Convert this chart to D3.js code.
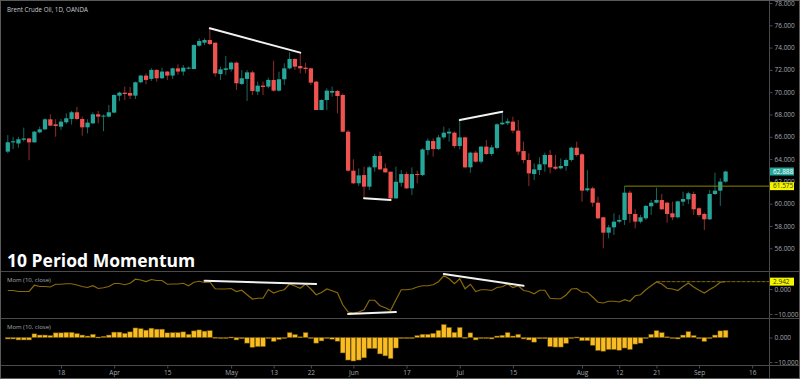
<!DOCTYPE html>
<html>
<head>
<meta charset="utf-8">
<script src="https://cdn.jsdelivr.net/npm/d3@7/dist/d3.min.js"></script>
<style>
  html, body { margin: 0; padding: 0; background: #000; }
  svg { display: block; }
  text { font-family: "Open Sans", "Noto Sans", sans-serif; }
</style>
</head>
<body>
<div id="chart"></div>
<script>
// Daily candles, Mar 4 .. Sep 9 (weekdays).
const opens = [
  64.67, 65.50, 65.40, 65.73, 65.85, 65.50, 66.40, 66.67, 67.57, 67.12,
  66.91, 67.30, 67.60, 68.20, 67.60, 66.85, 67.21, 68.02, 67.85, 67.81,
  68.17, 69.69, 69.96, 69.93, 69.69, 70.89, 71.49, 71.19, 72.00, 71.25,
  71.85, 71.49, 72.14, 71.85, 72.14, 72.08, 74.17, 74.44, 74.68, 74.44,
  71.63, 72.00, 72.05, 72.65, 70.74, 71.19, 71.78, 70.05, 70.59, 70.50,
  71.10, 70.14, 71.16, 72.14, 72.98, 72.35, 72.20, 72.14, 70.95, 68.40,
  69.30, 69.96, 70.11, 69.75, 66.46, 62.96, 61.83, 62.57, 61.53, 63.26,
  64.28, 63.17, 62.87, 60.48, 61.88, 62.66, 61.38, 62.66, 62.57, 64.81,
  65.62, 64.90, 65.95, 66.30, 66.37, 65.17, 65.95, 63.26, 64.58, 63.77,
  65.12, 64.46, 65.00, 67.12, 67.21, 67.36, 66.55, 64.72, 63.92, 62.66,
  63.02, 63.53, 64.37, 63.32, 63.17, 63.38, 63.92, 65.02, 64.43, 61.20,
  61.38, 60.09, 58.78, 57.40, 57.88, 58.39, 58.54, 60.99, 59.08, 58.39,
  58.69, 59.77, 60.09, 60.33, 60.09, 59.14, 58.78, 60.18, 60.39, 60.87,
  59.59, 59.08, 58.60, 60.87, 61.17, 61.98
];
const highs = [
  66.16, 66.00, 66.00, 66.82, 65.87, 66.52, 66.91, 67.66, 68.02, 67.57,
  67.60, 68.10, 68.32, 68.68, 67.81, 67.57, 68.20, 68.32, 68.00, 68.86,
  69.81, 70.05, 70.50, 70.47, 70.95, 71.55, 71.70, 72.14, 72.05, 72.20,
  71.90, 72.20, 72.50, 72.44, 72.30, 74.29, 74.83, 74.83, 75.73, 74.44,
  72.29, 73.25, 72.74, 72.74, 71.99, 71.99, 71.93, 70.95, 70.95, 71.30,
  72.83, 71.84, 72.59, 73.58, 73.04, 73.55, 72.65, 72.20, 71.00, 69.36,
  70.35, 70.50, 70.20, 69.90, 66.61, 63.98, 63.17, 63.32, 63.38, 64.46,
  64.67, 63.62, 62.87, 63.32, 63.02, 62.87, 63.26, 62.96, 64.96, 65.86,
  65.86, 66.16, 66.91, 66.76, 66.46, 67.51, 66.01, 64.67, 64.76, 65.17,
  65.71, 65.26, 67.21, 68.25, 67.66, 67.81, 67.51, 65.56, 64.52, 63.62,
  64.16, 64.58, 64.82, 64.37, 64.07, 64.07, 65.12, 65.56, 64.52, 63.02,
  61.53, 60.63, 58.84, 58.09, 59.14, 58.99, 61.575, 61.17, 59.50, 58.99,
  59.89, 60.33, 61.44, 60.87, 60.18, 60.18, 60.27, 61.08, 61.08, 61.08,
  59.68, 59.20, 61.23, 62.78, 62.28, 62.96
];
const lows = [
  64.52, 64.90, 65.03, 65.57, 63.90, 65.50, 66.31, 66.61, 67.00, 66.00,
  66.61, 67.15, 67.10, 67.51, 66.10, 66.31, 67.12, 67.21, 66.50, 67.72,
  68.11, 69.21, 69.30, 69.39, 69.39, 70.80, 70.71, 71.00, 70.95, 71.19,
  71.10, 71.19, 71.55, 71.49, 72.05, 72.05, 74.08, 74.23, 74.23, 71.40,
  71.10, 71.55, 71.84, 70.20, 70.65, 69.21, 69.75, 69.75, 69.75, 70.35,
  70.05, 70.05, 70.65, 72.05, 71.99, 71.69, 71.69, 70.65, 68.40, 68.40,
  68.40, 69.60, 68.10, 66.40, 62.87, 61.77, 61.59, 60.48, 61.23, 62.87,
  63.02, 62.78, 60.39, 60.42, 61.53, 61.32, 60.78, 61.83, 62.48, 64.37,
  64.22, 64.81, 65.77, 65.56, 64.96, 64.87, 63.17, 62.78, 63.68, 63.62,
  64.37, 64.28, 64.87, 67.06, 67.06, 66.31, 64.37, 63.62, 61.59, 62.13,
  62.57, 62.87, 62.72, 63.02, 63.08, 62.96, 63.77, 64.22, 60.18, 61.08,
  59.73, 58.60, 56.00, 56.90, 57.19, 58.24, 58.09, 58.30, 57.79, 58.24,
  58.54, 58.99, 60.03, 59.44, 58.30, 58.54, 58.69, 59.80, 59.98, 58.99,
  58.84, 57.64, 58.54, 60.78, 59.80, 61.89
];
const closes = [
  65.51, 65.60, 65.78, 65.85, 65.50, 66.46, 66.67, 67.57, 67.00, 66.97,
  67.36, 67.66, 68.20, 67.60, 66.85, 67.27, 68.02, 67.81, 67.90, 68.20,
  69.75, 69.96, 69.84, 69.69, 70.89, 71.49, 71.10, 72.00, 71.25, 71.85,
  71.49, 72.14, 71.85, 72.20, 72.20, 74.23, 74.59, 74.68, 74.32, 71.69,
  72.05, 72.14, 72.65, 70.80, 71.25, 71.78, 70.11, 70.59, 70.47, 71.10,
  70.14, 71.16, 72.14, 72.98, 72.29, 72.14, 72.08, 70.86, 68.40, 69.30,
  70.14, 70.11, 69.66, 66.46, 62.96, 61.83, 62.54, 61.53, 63.26, 64.28,
  63.08, 62.81, 60.48, 61.97, 62.66, 61.38, 62.66, 62.57, 64.87, 65.65,
  64.90, 65.95, 66.37, 66.46, 65.17, 65.95, 63.26, 64.58, 63.77, 65.12,
  64.46, 65.05, 67.12, 67.27, 67.39, 66.55, 64.67, 63.92, 62.72, 63.08,
  63.53, 64.37, 63.26, 63.14, 63.38, 63.92, 65.02, 64.37, 61.17, 61.38,
  60.09, 58.69, 57.40, 57.88, 58.39, 58.54, 60.99, 59.08, 58.39, 58.78,
  59.80, 60.09, 60.33, 59.50, 59.08, 58.78, 60.21, 60.42, 60.93, 59.50,
  58.99, 58.60, 60.87, 61.17, 61.98, 62.888
];

// Mom (10, close), one value per candle.
const momentum = [
  -0.6, -0.6, -1.0, -1.0, -1.0, 1.5, 1.0, 1.0, 0.8, 1.9,
  1.9, 2.1, 2.1, 1.6, 1.0, 0.6, 1.3, 0.2, 0.5, 1.0,
  2.2, 2.2, 1.7, 2.3, 3.9, 3.6, 3.0, 3.8, 3.4, 3.4,
  1.9, 2.0, 2.0, 2.3, 1.3, 2.7, 3.1, 2.6, 2.8, 0.1,
  0.0, 0.0, 0.2, -1.0, -0.5, -2.3, -4.0, -3.7, -3.7, -0.2,
  -1.6, -0.8, -0.3, 2.0, 1.2, 0.3, 2.0, 0.0, -2.3, -1.4,
  0.0, -0.7, -1.5, -6.3, -9.2, -9.6, -9.2, -8.3, -4.5, -4.5,
  -6.7, -7.5, -8.6, -4.3, -0.3, -0.3, 0.0, 0.8, 1.3, 1.3,
  1.7, 2.9, 5.3, 4.1, 2.1, 4.1, 0.1, 1.9, -1.0, -0.3,
  -0.3, -0.6, 0.6, 0.9, 2.0, 0.6, 1.3, -0.6, -1.0, -1.9,
  -0.5, -0.5, -3.7, -3.9, -3.9, -2.4, 0.0, 0.2, -1.3, -1.3,
  -3.2, -5.3, -5.6, -4.9, -4.9, -5.2, -4.3, -4.9, -2.7, -2.3,
  -0.3, 1.3, 2.8, 2.0, 0.3, 0.0, -0.6, 1.0, 2.4, 0.8,
  -0.5, -1.6, -0.2, 1.0, 2.7, 2.942
];

const priceTicks = [56, 58, 60, 62, 64, 66, 68, 70, 72, 74, 76, 78];
const momTicks = [0, -10];
// [candle index, label]
const timeTicks = [
  [10, '18'], [20, 'Apr'], [30, '15'], [42, 'May'], [50, '13'], [57, '22'],
  [65, 'Jun'], [75, '17'], [85, 'Jul'], [95, '15'], [108, 'Aug'], [115, '12'],
  [122, '21'], [130, 'Sep'], [140, '16']
];

// Hand drawn lines: [index1, value1, index2, value2]
const priceDrawings = [[38, 75.73, 55, 73.55], [67, 60.48, 72, 60.33], [85, 67.51, 93, 68.25]];
const momDrawings = [[37, 3.3, 58, 2.0], [64, -10.0, 73, -9.2], [82, 6.0, 97, 1.3]];
const priceRay = [116, 61.575];
const momRay = [122, 2.942];

const attrs = {
  width: 800,
  height: 379,
  axisX: 769,
  mainBottom: 271,
  lineBottom: 318,
  histBottom: 365,
  up: '#26a69a',
  down: '#ef5350',
  upWick: '#17695f',
  downWick: '#8f2d2b',
  grey: '#4a4a4a',
  text: '#a3a7ae'
};

const candles = closes.map((c, i) => ({ i, o: opens[i], h: highs[i], l: lows[i], c }));

// Scales.
const x = d3.scaleLinear().domain([0, 135]).range([7.8, 725.6]);
const y = d3.scaleLinear().domain([56, 78]).range([248.3, 3]);
const yMom = d3.scaleLinear().domain([-10, 0]).range([314, 289]);
const yHist = d3.scaleLinear().domain([-10, 0]).range([362, 337.5]);
const step = x(1) - x(0);

const svg = d3.select('#chart').append('svg')
  .attr('width', attrs.width)
  .attr('height', attrs.height);

svg.append('rect')
  .attr('width', attrs.width).attr('height', attrs.height)
  .attr('fill', '#000');

const defs = svg.append('defs');
const clip = (id, top, bottom) => defs.append('clipPath').attr('id', id)
  .append('rect').attr('x', 0).attr('y', top)
  .attr('width', attrs.axisX).attr('height', bottom - top);
clip('clip-main', 0, attrs.mainBottom);
clip('clip-line', attrs.mainBottom, attrs.lineBottom);
clip('clip-hist', attrs.lineBottom, attrs.histBottom);

const main = svg.append('g').attr('clip-path', 'url(#clip-main)');
const linePane = svg.append('g').attr('clip-path', 'url(#clip-line)');
const histPane = svg.append('g').attr('clip-path', 'url(#clip-hist)');

// Candles: wick first, then body.
const candle = main.selectAll('.candle').data(candles).join('g').attr('class', 'candle');
candle.append('line')
  .attr('x1', d => x(d.i)).attr('x2', d => x(d.i))
  .attr('y1', d => y(d.h)).attr('y2', d => y(d.l))
  .attr('stroke', d => d.c >= d.o ? attrs.upWick : attrs.downWick)
  .attr('stroke-width', 1);
candle.append('rect')
  .attr('x', d => x(d.i) - step * 0.4)
  .attr('width', step * 0.8)
  .attr('y', d => y(Math.max(d.o, d.c)))
  .attr('height', d => Math.max(1, Math.abs(y(d.o) - y(d.c))))
  .attr('fill', d => d.c >= d.o ? attrs.up : attrs.down);

// Horizontal ray from the Aug 13 high.
main.append('line')
  .attr('x1', x(priceRay[0])).attr('x2', attrs.axisX)
  .attr('y1', y(priceRay[1])).attr('y2', y(priceRay[1]))
  .attr('stroke', '#8a8300').attr('stroke-width', 1);

main.selectAll('.drawing').data(priceDrawings).join('line')
  .attr('class', 'drawing')
  .attr('x1', d => x(d[0])).attr('y1', d => y(d[1]))
  .attr('x2', d => x(d[2])).attr('y2', d => y(d[3]))
  .attr('stroke', '#f2f2f2').attr('stroke-width', 2).attr('stroke-linecap', 'round');

// Momentum line pane.
linePane.append('line')
  .attr('x1', x(momRay[0])).attr('x2', attrs.axisX)
  .attr('y1', yMom(momRay[1])).attr('y2', yMom(momRay[1]))
  .attr('stroke', '#7d6a00').attr('stroke-width', 1).attr('stroke-dasharray', '4 1');

linePane.append('path')
  .datum(momentum)
  .attr('d', d3.line().x((d, i) => x(i)).y(d => yMom(d)))
  .attr('fill', 'none')
  .attr('stroke', '#8a6a08')
  .attr('stroke-width', 1.2);

linePane.selectAll('.drawing').data(momDrawings).join('line')
  .attr('class', 'drawing')
  .attr('x1', d => x(d[0])).attr('y1', d => yMom(d[1]))
  .attr('x2', d => x(d[2])).attr('y2', d => yMom(d[3]))
  .attr('stroke', '#f2f2f2').attr('stroke-width', 2).attr('stroke-linecap', 'round');

// Momentum histogram pane.
histPane.selectAll('.bar').data(momentum).join('rect')
  .attr('class', 'bar')
  .attr('x', (d, i) => x(i) - step / 2 + 0.3)
  .attr('width', step - 0.6)
  .attr('y', d => Math.min(yHist(d), yHist(0)))
  .attr('height', d => Math.max(1, Math.abs(yHist(d) - yHist(0))))
  .attr('fill', '#f9bc22')
  .attr('stroke', '#6e5200')
  .attr('stroke-width', 0.5);

// Pane separators, axis line and frame.
[attrs.mainBottom, attrs.lineBottom, attrs.histBottom].forEach(py => {
  svg.append('line')
    .attr('x1', 0).attr('x2', attrs.width)
    .attr('y1', py + 0.5).attr('y2', py + 0.5)
    .attr('stroke', attrs.grey);
});
svg.append('line')
  .attr('x1', attrs.axisX + 0.5).attr('x2', attrs.axisX + 0.5)
  .attr('y1', 0).attr('y2', attrs.height)
  .attr('stroke', attrs.grey);
svg.append('rect')
  .attr('x', 0.5).attr('y', 0.5)
  .attr('width', attrs.width - 1).attr('height', attrs.height - 1)
  .attr('fill', 'none').attr('stroke', '#5a5a5a');

// Axes.
const styleAxis = g => {
  g.select('.domain').remove();
  g.selectAll('line').attr('stroke', attrs.grey);
  g.selectAll('text').attr('fill', attrs.text).style('font-size', '6.5px');
};
const fmt = d3.format('.3f');

svg.append('g')
  .attr('transform', `translate(${attrs.axisX + 0.5},0)`)
  .call(d3.axisRight(y).tickValues(priceTicks).tickFormat(fmt).tickSize(3).tickPadding(2))
  .call(styleAxis);
svg.append('g')
  .attr('transform', `translate(${attrs.axisX + 0.5},0)`)
  .call(d3.axisRight(yMom).tickValues(momTicks).tickFormat(fmt).tickSize(3).tickPadding(2))
  .call(styleAxis);
svg.append('g')
  .attr('transform', `translate(${attrs.axisX + 0.5},0)`)
  .call(d3.axisRight(yHist).tickValues(momTicks).tickFormat(fmt).tickSize(3).tickPadding(2))
  .call(styleAxis);
svg.append('g')
  .attr('transform', `translate(0,${attrs.histBottom + 0.5})`)
  .call(d3.axisBottom(x).tickValues(timeTicks.map(t => t[0]))
    .tickFormat((d, i) => timeTicks[i][1]).tickSize(3).tickPadding(2))
  .call(styleAxis);

// Value labels on the price scale.
const tag = (py, value, fill, color) => {
  svg.append('rect')
    .attr('x', attrs.axisX + 1).attr('y', py - 4)
    .attr('width', 24).attr('height', 8)
    .attr('fill', fill);
  svg.append('text')
    .attr('x', attrs.axisX + 4).attr('y', py + 2.2)
    .attr('fill', color).style('font-size', '6.5px')
    .text(fmt(value));
};
tag(y(closes[closes.length - 1]), closes[closes.length - 1], attrs.up, '#ffffff');
tag(y(priceRay[1]), priceRay[1], '#f5f500', '#333300');
tag(yMom(momRay[1]), momRay[1], '#f5f500', '#333300');

// Titles.
svg.append('text')
  .attr('x', 7).attr('y', 12)
  .attr('fill', '#c9ccd2').style('font-size', '6.2px')
  .text('Brent Crude Oil, 1D, OANDA');
svg.append('text')
  .attr('x', 7).attr('y', 282)
  .attr('fill', attrs.text).style('font-size', '6px')
  .text('Mom (10, close)');
svg.append('text')
  .attr('x', 7).attr('y', 329)
  .attr('fill', attrs.text).style('font-size', '6px')
  .text('Mom (10, close)');
svg.append('text')
  .attr('x', 7).attr('y', 267)
  .attr('fill', '#ffffff').style('font-size', '17.5px').style('font-weight', 'bold')
  .text('10 Period Momentum');
</script>
</body>
</html>
